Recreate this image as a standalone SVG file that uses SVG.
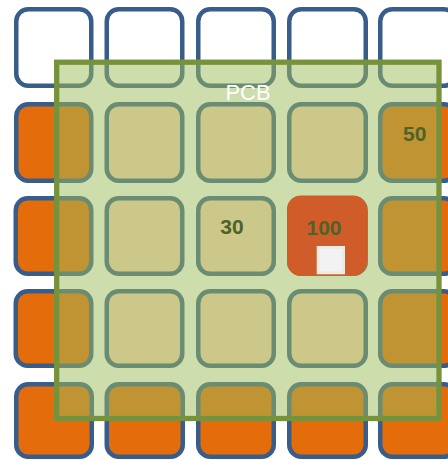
<svg xmlns="http://www.w3.org/2000/svg" width="448" height="460" viewBox="0 0 448 460">
<style>
.cell{stroke:#385D8A;stroke-width:4.5}
.w{fill:#FFFFFF}
.o{fill:#E46C0A}
.p{fill:#FDD5BB}
.num{font-family:"Liberation Sans",Arial,sans-serif;font-weight:bold;font-size:21px;fill:#4F6228;text-anchor:middle}
.lbl{font-family:"Liberation Sans",Arial,sans-serif;font-size:22px;fill:#FFFFFF;text-anchor:middle}
</style>
<rect width="448" height="460" fill="#FFFFFF"/>
<g id="cells">
<!-- row 1 -->
<rect id="c11" class="cell w" x="16.25" y="9.25" width="75" height="76.5" rx="12"/>
<rect id="c12" class="cell w" x="106.75" y="9.25" width="75.5" height="76.5" rx="12"/>
<rect id="c13" class="cell w" x="198.25" y="9.25" width="75.5" height="76.5" rx="12"/>
<rect id="c14" class="cell w" x="289.25" y="9.25" width="76.5" height="76.5" rx="12"/>
<rect id="c15" class="cell w" x="380.25" y="9.25" width="75.5" height="76.5" rx="12"/>
<!-- row 2 -->
<rect id="c21" class="cell o" x="16.25" y="104.25" width="75" height="76.5" rx="12"/>
<rect id="c22" class="cell p" x="106.75" y="104.25" width="75.5" height="76.5" rx="12"/>
<rect id="c23" class="cell p" x="198.25" y="104.25" width="75.5" height="76.5" rx="12"/>
<rect id="c24" class="cell p" x="289.25" y="104.25" width="76.5" height="76.5" rx="12"/>
<rect id="c25" class="cell o" x="380.25" y="104.25" width="75.5" height="76.5" rx="12"/>
<!-- row 3 -->
<rect id="c31" class="cell o" x="15.75" y="198.25" width="75.5" height="75.5" rx="12"/>
<rect id="c32" class="cell p" x="106.75" y="198.25" width="75.5" height="75.5" rx="12"/>
<rect id="c33" class="cell p" x="198.25" y="198.25" width="75.5" height="75.5" rx="12"/>
<rect id="c34" class="cell p" x="289.25" y="198.25" width="76.5" height="75.5" rx="12"/>
<rect id="c35" class="cell o" x="380.25" y="198.25" width="75.5" height="75.5" rx="12"/>
<!-- row 4 -->
<rect id="c41" class="cell o" x="15.75" y="291.25" width="75.5" height="74.5" rx="12"/>
<rect id="c42" class="cell p" x="106.75" y="291.25" width="75.5" height="74.5" rx="12"/>
<rect id="c43" class="cell p" x="198.25" y="291.25" width="75.5" height="74.5" rx="12"/>
<rect id="c44" class="cell p" x="289.25" y="291.25" width="76.5" height="74.5" rx="12"/>
<rect id="c45" class="cell o" x="380.25" y="291.25" width="75.5" height="74.5" rx="12"/>
<!-- row 5 -->
<rect id="c51" class="cell o" x="16.25" y="384.25" width="75.5" height="72.5" rx="12"/>
<rect id="c52" class="cell o" x="106.75" y="384.25" width="76" height="72.5" rx="12"/>
<rect id="c53" class="cell o" x="198.25" y="384.25" width="75.5" height="72.5" rx="12"/>
<rect id="c54" class="cell o" x="289.25" y="384.25" width="76.5" height="72.5" rx="12"/>
<rect id="c55" class="cell o" x="380.25" y="384.25" width="75.5" height="72.5" rx="12"/>
</g>
<g id="pcb">
<rect x="56.7" y="62.2" width="382.3" height="356.3" fill="#9BBB59" fill-opacity="0.5" stroke="#76923C" stroke-width="5.3"/>
<text class="lbl" x="248" y="100">PCB</text>
</g>
<g id="hot">
<rect x="287" y="195.5" width="80" height="80.5" rx="14" fill="#D05C2A"/>
<rect x="318.2" y="247.5" width="25.3" height="25.3" fill="#F2F2F2" stroke="#EEEBE0" stroke-width="3"/>
<text class="num" x="324" y="235">100</text>
</g>
<g id="labels">
<text class="num" x="232" y="234.3">30</text>
<text class="num" x="414.7" y="141">50</text>
</g>
</svg>
